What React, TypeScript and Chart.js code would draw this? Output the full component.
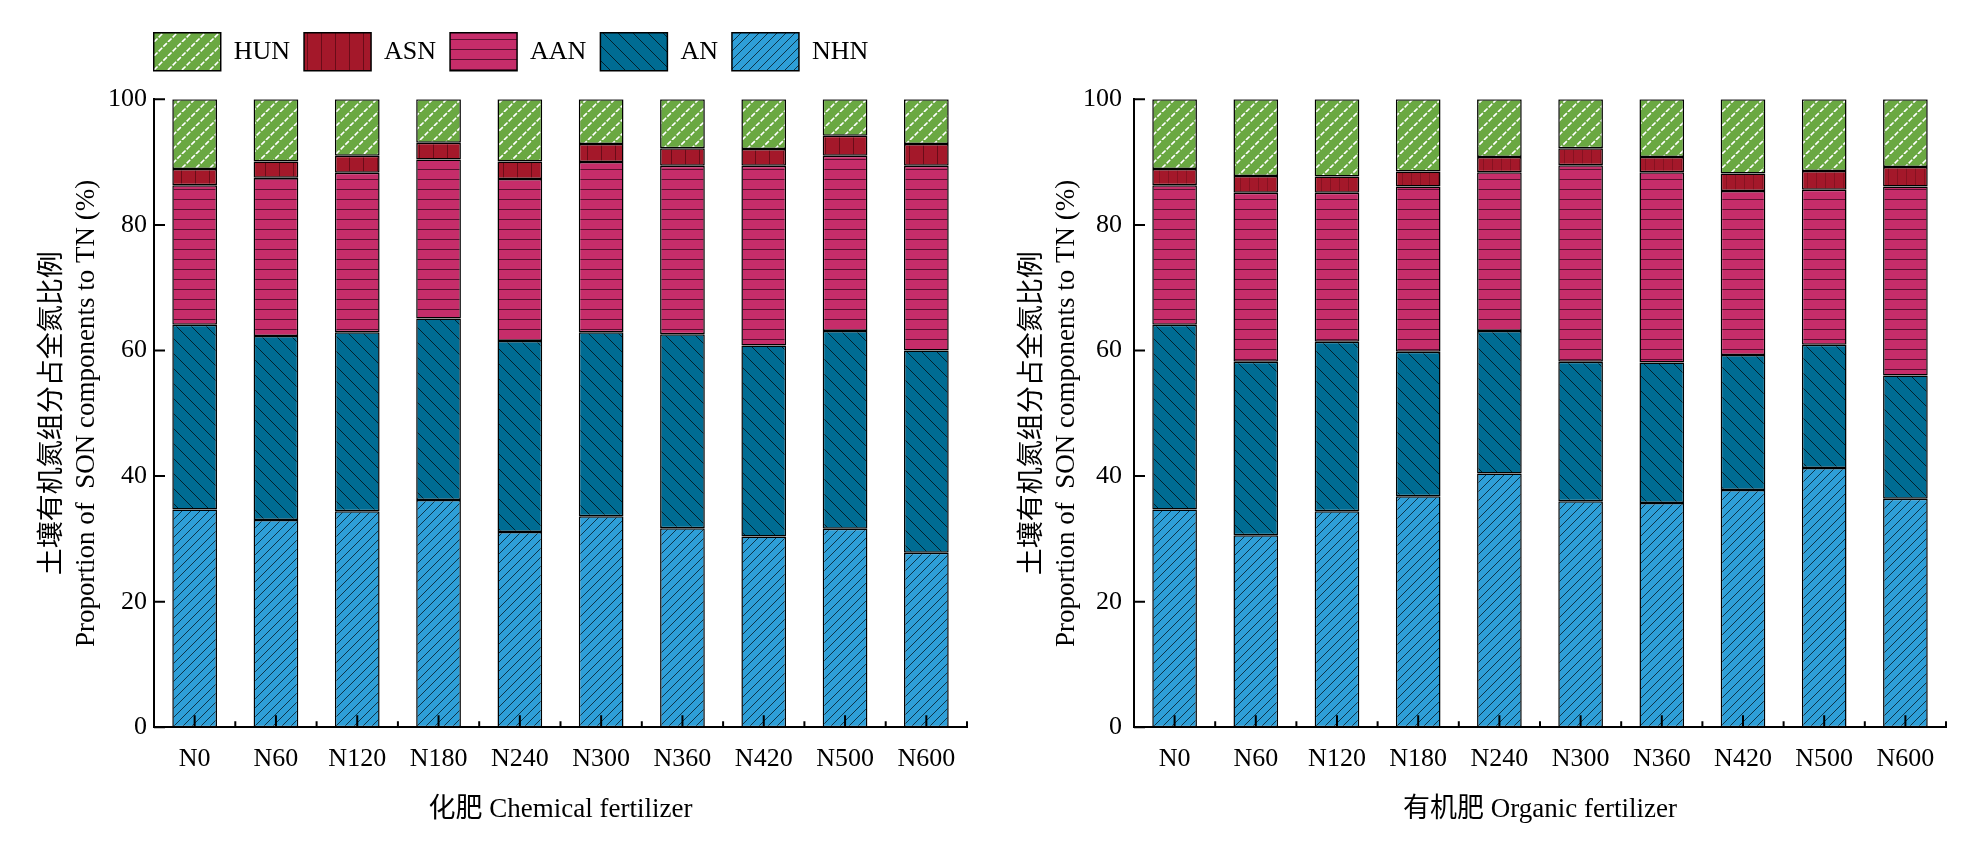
import Chart from 'chart.js/auto';
import { useEffect, useRef } from 'react';

document.body.style.margin = '0';

// categories and tick values
const categories = ['N0', 'N60', 'N120', 'N180', 'N240', 'N300', 'N360', 'N420', 'N500', 'N600'];
const yTicks = [0, 20, 40, 60, 80, 100];

// chemical fertilizer (%)
const chemNHN = [34.7, 33.0, 34.4, 36.2, 31.1, 33.6, 31.7, 30.4, 31.6, 27.8];
const chemAN = [29.4, 29.3, 28.5, 28.9, 30.4, 29.3, 30.9, 30.4, 31.5, 32.2];
const chemAAN = [22.2, 25.2, 25.4, 25.3, 25.8, 27.1, 26.8, 28.6, 27.9, 29.4];
const chemASN = [2.6, 2.6, 2.7, 2.7, 2.8, 2.9, 2.8, 2.7, 3.2, 3.5];
const chemHUN = [11.1, 9.9, 9.0, 6.9, 9.9, 7.1, 7.8, 7.9, 5.8, 7.1];

// organic fertilizer (%)
const orgNHN = [34.7, 30.6, 34.4, 36.8, 40.4, 36.0, 35.7, 37.8, 41.3, 36.4];
const orgAN = [29.4, 27.6, 27.0, 23.0, 22.7, 22.2, 22.4, 21.5, 19.6, 19.6];
const orgAAN = [22.2, 26.9, 23.7, 26.3, 25.3, 31.3, 30.3, 26.1, 24.7, 30.1];
const orgASN = [2.6, 2.7, 2.6, 2.4, 2.4, 2.7, 2.4, 2.8, 3.0, 3.1];
const orgHUN = [11.1, 12.2, 12.3, 11.5, 9.2, 7.8, 9.2, 11.8, 11.4, 10.8];

const FONT = "'Liberation Serif', 'Noto Sans CJK SC', serif";
Chart.defaults.font.family = FONT;
Chart.defaults.color = '#000';

type Kind = 'slash' | 'back' | 'horiz' | 'vert' | 'dash';

function makePattern(kind: Kind, s: number, bg: string, line: string, lw: number) {
    const c = document.createElement('canvas');
    c.width = s;
    c.height = s;
    const g = c.getContext('2d')!;
    g.fillStyle = bg;
    g.fillRect(0, 0, s, s);
    g.strokeStyle = line;
    g.lineWidth = lw;
    g.beginPath();
    if (kind === 'horiz') {
        g.moveTo(0, s - lw / 2);
        g.lineTo(s, s - lw / 2);
    } else if (kind === 'vert') {
        g.moveTo(s - lw / 2, 0);
        g.lineTo(s - lw / 2, s);
    } else if (kind === 'back') {
        for (let k = -1; k <= 1; k++) {
            g.moveTo(k * s, 0);
            g.lineTo(k * s + s, s);
        }
    } else {
        if (kind === 'dash') {
            // three dashes per tile diagonal so the tiles join up
            const d = (s * Math.SQRT2) / 3;
            g.setLineDash([d - 1.6, 1.6]);
        }
        for (let k = -1; k <= 1; k++) {
            g.moveTo(k * s, s);
            g.lineTo(k * s + s, 0);
        }
    }
    g.stroke();
    return g.createPattern(c, 'repeat')!;
}

const axisDecor = {
    id: 'axisDecor',
    afterDatasetsDraw(chart: any) {
        const { ctx, chartArea, scales } = chart;
        const x = scales.x;
        const y = scales.y;
        const step = x.getPixelForValue(1) - x.getPixelForValue(0);
        ctx.save();
        ctx.strokeStyle = '#000';
        ctx.lineWidth = 2;
        ctx.beginPath();
        yTicks.forEach((v) => {
            const py = y.getPixelForValue(v);
            ctx.moveTo(chartArea.left, py);
            ctx.lineTo(chartArea.left + 11, py);
        });
        categories.forEach((_, i) => {
            const px = x.getPixelForValue(i);
            ctx.moveTo(px, chartArea.bottom);
            ctx.lineTo(px, chartArea.bottom - 12);
            ctx.moveTo(px + step / 2, chartArea.bottom);
            ctx.lineTo(px + step / 2, chartArea.bottom - 6);
        });
        ctx.stroke();
        ctx.restore();
    },
};

const yTitle = {
    id: 'yTitle',
    afterDraw(chart: any) {
        const { ctx, chartArea } = chart;
        const cy = (chartArea.top + chartArea.bottom) / 2;
        ctx.save();
        ctx.fillStyle = '#000';
        ctx.font = `27px ${FONT}`;
        ctx.textAlign = 'center';
        ctx.textBaseline = 'middle';
        ctx.translate(53, cy);
        ctx.rotate(-Math.PI / 2);
        ctx.fillText('土壤有机氮组分占全氮比例', 0, 0);
        ctx.fillText('Proportion of  SON components to TN (%)', 0, 34);
        ctx.restore();
    },
};

interface PanelProps {
    width: number;
    title: string;
    nhn: number[];
    an: number[];
    aan: number[];
    asn: number[];
    hun: number[];
    legend: boolean;
    asnStep: number;
    padRight: number;
    labelPad: number;
}

const Panel = (props: PanelProps) => {
    const canvasRef = useRef<HTMLCanvasElement>(null);

    useEffect(() => {
        const ctx = canvasRef.current?.getContext('2d');
        if (!ctx) return;

        const border = { borderColor: '#000', borderWidth: 1.5, borderSkipped: false as const };
        const data = {
            labels: categories,
            datasets: [
                { label: 'NHN', data: props.nhn, backgroundColor: makePattern('slash', 9, '#2e9fd8', '#0b2a3a', 0.9), ...border },
                { label: 'AN', data: props.an, backgroundColor: makePattern('back', 15, '#006c93', '#02202c', 1), ...border },
                { label: 'AAN', data: props.aan, backgroundColor: makePattern('horiz', 10, '#c62d6a', '#5a1030', 1), ...border },
                { label: 'ASN', data: props.asn, backgroundColor: makePattern('vert', props.asnStep, '#a4182a', '#6a0c18', 1), ...border },
                { label: 'HUN', data: props.hun, backgroundColor: makePattern('dash', 14, '#6aa842', '#ffffff', 1.6), ...border },
            ],
        };

        // extra gap under the legend (only when it is shown)
        const legendSpacer = {
            id: 'legendSpacer',
            beforeInit(c: any) {
                const lg = c.legend;
                if (!lg || !props.legend) return;
                const fit = lg.fit;
                lg.fit = function () {
                    fit.call(this);
                    this.height += 18.6;
                };
            },
        };

        const chart = new Chart(ctx, {
            type: 'bar',
            data,
            options: {
                animation: false,
                responsive: true,
                maintainAspectRatio: false,
                datasets: { bar: { categoryPercentage: 0.55, barPercentage: 1 } },
                layout: {
                    padding: { left: 55, right: props.padRight, top: props.legend ? 18.7 : 99.3, bottom: 0 },
                },
                scales: {
                    x: {
                        stacked: true,
                        grid: { display: false, drawTicks: false },
                        border: { display: true, color: '#000', width: 2 },
                        ticks: { font: { size: 26 }, color: '#000', padding: 16, maxRotation: 0 },
                        title: {
                            display: true,
                            text: props.title,
                            font: { size: 27 },
                            color: '#000',
                            padding: { top: 10, bottom: 17 },
                        },
                        afterFit: (s: any) => {
                            s.height = 115.7;
                        },
                    },
                    y: {
                        stacked: true,
                        min: 0,
                        max: 100,
                        grid: { display: false, drawTicks: false },
                        border: { display: true, color: '#000', width: 2 },
                        ticks: { stepSize: 20, font: { size: 26 }, color: '#000', padding: props.labelPad },
                        afterFit: (s: any) => {
                            s.width = 99;
                            s.paddingTop = 0;
                            s.paddingBottom = 0;
                        },
                    },
                },
                plugins: {
                    legend: {
                        display: props.legend,
                        position: 'top',
                        reverse: true,
                        labels: { boxWidth: 67, boxHeight: 38, padding: 14, font: { size: 26 }, color: '#000' },
                    },
                    tooltip: { enabled: false },
                },
            },
            plugins: [legendSpacer, axisDecor, yTitle],
        });

        return () => {
            chart.destroy();
        };
    }, []);

    return (
        <div style={{ position: 'relative', width: props.width, height: 843 }}>
            <canvas ref={canvasRef} />
        </div>
    );
};

export default function App() {
    return (
        <div style={{ display: 'flex', width: 1965, height: 843, overflow: 'hidden', background: '#fff' }}>
            <Panel width={980} title="化肥 Chemical fertilizer" nhn={chemNHN} an={chemAN} aan={chemAAN} asn={chemASN} hun={chemHUN}
                legend={true} asnStep={14} padRight={13} labelPad={7} />
            <Panel width={985} title="有机肥 Organic fertilizer" nhn={orgNHN} an={orgAN} aan={orgAAN} asn={orgASN} hun={orgHUN}
                legend={false} asnStep={9.5} padRight={19} labelPad={12} />
        </div>
    );
}
